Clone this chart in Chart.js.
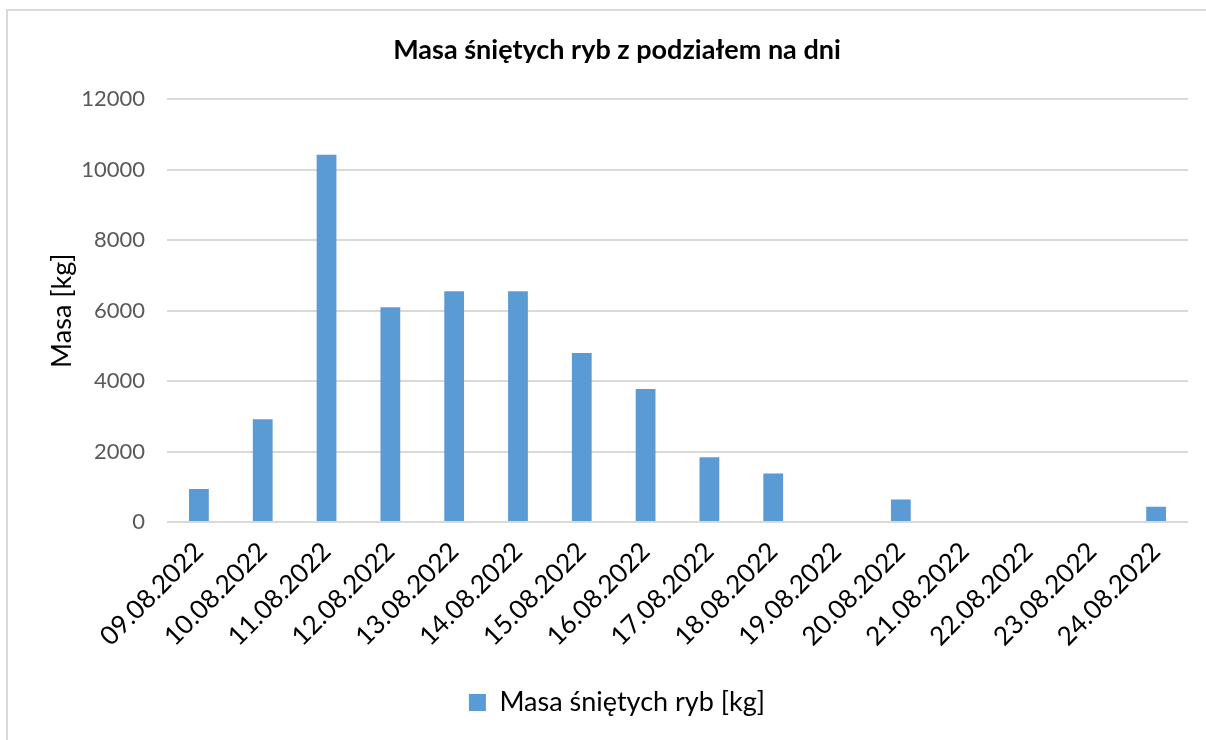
<!DOCTYPE html>
<html>
<head>
<meta charset="utf-8">
<script src="https://cdn.jsdelivr.net/npm/chart.js@4"></script>
<style>
  html, body { margin: 0; padding: 0; background: #fff; }
  #frame {
    position: absolute; left: 6px; top: 9px; width: 1210px; height: 740px;
    border-left: 2px solid #d9d9d9; border-top: 2px solid #d9d9d9;
  }
  #wrap { position: absolute; left: 0; top: 0; width: 1206px; height: 740px; }
</style>
</head>
<body>
<div id="frame"></div>
<div id="wrap"><canvas id="chart" width="1206" height="740"></canvas></div>
<script>
const days = ['09.08.2022', '10.08.2022', '11.08.2022', '12.08.2022', '13.08.2022', '14.08.2022',
  '15.08.2022', '16.08.2022', '17.08.2022', '18.08.2022', '19.08.2022', '20.08.2022',
  '21.08.2022', '22.08.2022', '23.08.2022', '24.08.2022'];
const masses = [937, 2918, 10426, 6099, 6554, 6554, 4801, 3778, 1838, 1375, 0, 642, 0, 0, 0, 435];
const yTicks = [0, 2000, 4000, 6000, 8000, 10000, 12000];

const font = 'Lato, "Open Sans", sans-serif';

new Chart(document.getElementById('chart'), {
  type: 'bar',
  data: {
    labels: days,
    datasets: [{
      label: 'Masa śniętych ryb [kg]',
      data: masses,
      backgroundColor: '#5b9bd5',
      borderWidth: 0,
      barPercentage: 0.62,
      categoryPercentage: 0.5
    }]
  },
  options: {
    responsive: false,
    animation: false,
    layout: { padding: { left: 46, right: 18, top: 34, bottom: 14 } },
    plugins: {
      title: {
        display: true,
        text: 'Masa śniętych ryb z podziałem na dni',
        color: '#000',
        font: { family: font, size: 27, weight: 'bold' },
        padding: { top: 0, bottom: 33 }
      },
      legend: {
        position: 'bottom',
        labels: {
          color: '#000',
          font: { family: font, size: 27 },
          boxWidth: 17,
          boxHeight: 17,
          padding: 8
        }
      },
      tooltip: { enabled: false }
    },
    scales: {
      x: {
        grid: { display: false, drawTicks: false },
        border: { display: false },
        afterFit: axis => { axis.height = 159; },
        ticks: {
          color: '#000',
          font: { family: font, size: 26 },
          maxRotation: 45,
          minRotation: 45,
          autoSkip: false,
          padding: 14
        }
      },
      y: {
        min: 0,
        max: 12000,
        afterBuildTicks: axis => { axis.ticks = yTicks.map(v => ({ value: v })); },
        afterFit: axis => { axis.width = 121; },
        grid: { color: '#d9d9d9', lineWidth: 2, drawTicks: false },
        border: { display: false },
        ticks: {
          color: '#595959',
          font: { family: font, size: 22 },
          padding: 22,
          callback: v => String(v)
        },
        title: {
          display: true,
          text: 'Masa [kg]',
          color: '#000',
          font: { family: font, size: 27 },
          padding: { top: 0, bottom: 20 }
        }
      }
    }
  }
});
</script>
</body>
</html>
